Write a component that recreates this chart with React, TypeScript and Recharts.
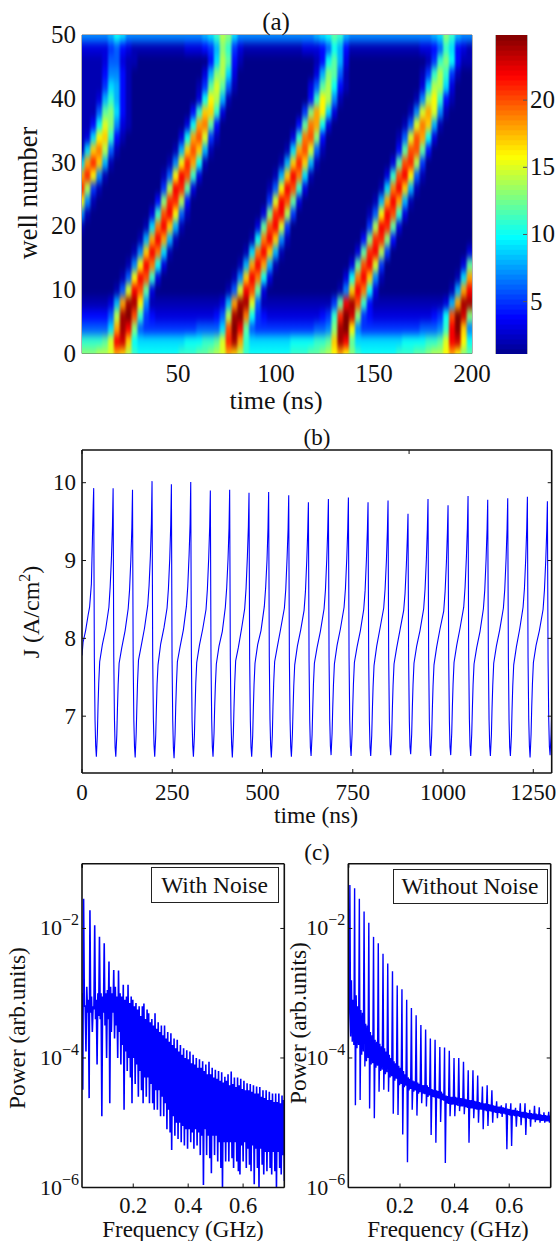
import type { CSSProperties, ReactNode } from "react";
import { Line, LineChart, Scatter, ScatterChart, XAxis, YAxis } from "recharts";

// (a) current density per well, one row per well number
const heatTimes = [
  1, 4, 7, 10, 13, 16, 19, 22, 25, 28,
  31, 34, 37, 40, 43, 46, 49, 52, 55, 58,
  61, 64, 67, 70, 73, 76, 79, 82, 85, 88,
  91, 94, 97, 100, 103, 106, 109, 112, 115, 118,
  121, 124, 127, 130, 133, 136, 139, 142, 145, 148,
  151, 154, 157, 160, 163, 166, 169, 172, 175, 178,
  181, 184, 187, 190, 193, 196, 199,
];
const heatWells = [0, 2, 4, 6, 8, 10, 12, 14, 16, 18, 20, 22, 24, 26, 28, 30, 32, 34, 36, 38, 40, 42, 44, 46, 48, 50];
const heatRows = [
  [13,13,13,14,14,15,18,17,14,11, 10,10,10,10,10,10,10,11,11,11, 12,12,13,14,15,18,17,14,11,10, 10,10,10,10,10,10,11,11,11,12, 12,13,14,16,18,16,13,11,10,10, 10,10,10,10,11,11,11,12,12,13, 14,14,16,18,16,13,12],
  [11,11,11,11,12,15,22,23,17,10, 9,9,9,9,9,9,9,9,10,10, 10,11,11,12,15,21,24,18,11,9, 9,9,9,9,9,9,10,10,10,10, 11,11,12,17,24,22,12,9,9,9, 9,9,9,9,9,10,10,10,10,11, 11,12,15,22,23,16,10],
  [6,6,6,6,6,9,18,24,22,13, 6,5,5,5,5,5,5,5,5,5, 6,6,6,6,9,20,25,22,12,6, 5,5,5,5,5,5,5,5,5,5, 6,6,7,13,24,25,16,7,5,5, 5,5,5,5,5,5,5,5,6,6, 6,7,11,22,25,17,7],
  [4,4,4,4,4,6,14,24,25,20, 11,5,4,3,3,3,3,3,3,3, 3,3,3,4,6,14,24,25,19,10, 5,4,3,3,3,3,3,3,3,3, 3,4,5,11,21,25,23,13,5,4, 3,3,3,3,3,3,3,3,3,3, 4,5,10,20,25,23,13],
  [2,2,2,2,2,3,8,18,24,24, 16,7,2,2,2,2,2,2,2,2, 2,2,2,2,3,8,18,24,24,15, 6,2,2,2,2,2,2,2,2,2, 2,2,2,5,12,22,24,20,11,4, 2,2,2,2,2,2,2,2,2,2, 2,2,3,8,18,24,24],
  [1,1,1,1,1,1,2,6,15,22, 20,12,3,1,1,1,1,1,1,1, 1,1,1,1,1,2,6,15,22,20, 12,3,1,1,1,1,1,1,1,1, 1,1,1,1,2,7,17,22,19,10, 3,1,1,1,1,1,1,1,1,1, 1,1,1,2,8,18,22],
  [1,1,1,1,1,1,1,2,6,16, 22,20,11,3,1,1,1,1,1,1, 1,1,1,1,1,1,2,7,17,22, 19,10,3,1,1,1,1,1,1,1, 1,1,1,1,1,3,10,19,22,17, 7,2,1,1,1,1,1,1,1,1, 1,1,1,1,2,9,18],
  [1,1,1,1,1,1,1,1,2,7, 16,22,19,10,3,1,1,1,1,1, 1,1,1,1,1,1,1,2,8,18, 22,18,8,2,1,1,1,1,1,1, 1,1,1,1,1,1,3,12,20,22, 15,5,1,1,1,1,1,1,1,1, 1,1,1,1,1,3,12],
  [1,1,1,1,1,1,1,1,1,2, 7,17,22,19,9,2,1,1,1,1, 1,1,1,1,1,1,1,1,2,9, 19,22,17,8,2,1,1,1,1,1, 1,1,1,1,1,1,1,3,12,21, 22,14,5,1,1,1,1,1,1,1, 1,1,1,1,1,1,3],
  [1,1,1,1,1,1,1,1,1,1, 2,8,18,22,18,8,2,1,1,1, 1,1,1,1,1,1,1,1,1,2, 10,19,22,17,7,2,1,1,1,1, 1,1,1,1,1,1,1,1,4,13, 21,21,13,4,1,1,1,1,1,1, 1,1,1,1,1,1,1],
  [2,1,1,1,1,1,1,1,1,1, 1,2,9,19,22,17,8,2,1,1, 1,1,1,1,1,1,1,1,1,1, 3,12,20,22,15,5,1,1,1,1, 1,1,1,1,1,1,1,1,1,5, 14,22,21,12,3,1,1,1,1,1, 1,1,1,1,1,1,1],
  [7,2,1,1,1,1,1,1,1,1, 1,1,3,11,20,22,16,6,2,1, 1,1,1,1,1,1,1,1,1,1, 1,3,13,21,22,14,5,1,1,1, 1,1,1,1,1,1,1,1,1,2, 6,16,22,20,11,3,1,1,1,1, 1,1,1,1,1,1,1],
  [16,7,2,1,1,1,1,1,1,1, 1,1,1,4,13,21,21,14,4,1, 1,1,1,1,1,1,1,1,1,1, 1,1,5,15,22,20,12,3,1,1, 1,1,1,1,1,1,1,1,1,1, 2,8,18,22,18,8,2,1,1,1, 1,1,1,1,1,1,1],
  [21,14,5,2,1,1,1,1,1,1, 1,1,1,1,5,14,22,21,12,3, 1,1,1,1,1,1,1,1,1,1, 1,1,2,6,16,22,20,11,3,1, 1,1,1,1,1,1,1,1,1,1, 1,2,9,19,22,17,8,2,1,1, 1,1,1,1,1,1,1],
  [18,21,16,7,2,1,1,1,1,1, 1,1,1,1,2,6,16,22,20,11, 3,1,1,1,1,1,1,1,1,1, 1,1,1,2,8,17,22,19,9,2, 1,1,1,1,1,1,1,1,1,1, 1,1,3,11,20,22,16,6,2,1, 1,1,1,1,1,1,1],
  [9,18,21,17,8,2,1,1,1,1, 1,1,1,1,1,2,7,16,21,18, 10,2,1,1,1,1,1,1,1,1, 1,1,1,1,2,8,17,21,17,8, 2,1,1,1,1,1,1,1,1,1, 1,1,1,3,12,20,21,14,5,1, 1,1,1,1,1,1,1],
  [2,9,17,19,14,6,2,1,1,1, 1,1,1,1,1,1,2,8,17,20, 17,8,2,1,1,1,1,1,1,1, 1,1,1,1,1,2,9,18,20,15, 6,2,1,1,1,1,1,1,1,1, 1,1,1,1,4,12,20,20,12,4, 1,1,1,1,1,1,1],
  [2,3,9,16,17,11,4,2,1,1, 1,1,1,1,1,1,1,3,10,18, 20,15,5,2,1,1,1,1,1,1, 1,1,1,1,1,1,3,11,19,20, 13,4,1,1,1,1,1,1,1,1, 1,1,1,1,2,6,15,20,18,10, 3,1,1,1,1,1,1],
  [2,2,4,10,15,13,7,3,2,1, 1,1,1,1,1,1,1,1,3,10, 18,19,12,4,1,1,1,1,1,1, 1,1,1,1,1,1,1,4,12,19, 18,10,3,1,1,1,1,1,1,1, 1,1,1,1,1,2,6,15,19,17, 8,2,1,1,1,1,1],
  [2,2,2,6,12,13,9,4,2,1, 1,1,1,1,1,1,1,1,1,4, 11,17,17,11,3,1,1,1,1,1, 1,1,1,1,1,1,1,1,5,13, 18,16,9,3,1,1,1,1,1,1, 1,1,1,1,1,1,2,7,15,18, 15,7,2,1,1,1,1],
  [2,2,2,3,8,11,8,4,2,1, 1,1,1,1,1,1,1,1,1,1, 3,10,16,14,8,2,1,1,1,1, 1,1,1,1,1,1,1,1,1,4, 11,16,14,7,2,1,1,1,1,1, 1,1,1,1,1,1,1,2,7,14, 16,11,4,2,1,1,1],
  [2,2,2,2,5,9,8,4,2,1, 1,1,1,1,1,1,1,1,1,1, 2,5,12,15,12,6,2,1,1,1, 1,1,1,1,1,1,1,1,1,3, 6,12,14,10,4,2,1,1,1,1, 1,1,1,1,1,1,1,1,3,9, 14,14,9,3,1,1,1],
  [2,2,2,2,4,7,7,4,2,1, 1,1,1,1,1,1,1,1,1,1, 1,3,8,13,14,9,3,1,1,1, 1,1,1,1,1,1,1,1,1,1, 3,8,13,12,6,2,1,1,1,1, 1,1,1,1,1,1,1,1,2,5, 11,14,11,5,2,1,1],
  [2,2,2,2,3,6,6,3,2,2, 1,1,1,1,1,1,1,1,1,1, 1,1,4,9,14,12,4,2,1,1, 1,1,1,1,1,1,1,1,1,1, 2,4,10,12,8,3,1,1,1,1, 1,1,1,1,1,1,1,1,1,2, 5,11,13,10,4,2,2],
  [3,3,3,3,3,5,6,4,3,2, 2,2,2,2,2,2,2,2,3,3, 3,4,5,8,13,11,5,3,2,2, 2,2,2,2,2,2,2,2,3,3, 3,4,6,10,8,4,2,2,2,2, 2,2,2,2,2,2,2,2,3,3, 4,6,11,9,4,3,2],
  [7,7,7,7,7,8,10,9,7,7, 7,7,7,7,7,7,7,7,7,7, 7,8,9,11,14,13,9,7,7,7, 7,7,7,7,7,7,7,7,7,7, 8,9,10,12,11,8,7,7,7,7, 7,7,7,7,7,7,7,7,7,7, 8,9,13,11,8,7,7],
];
const colorbarLevels = [
  1.29, 1.66, 2.03, 2.4, 2.77, 3.14, 3.51, 3.88, 4.25, 4.62, 4.99, 5.37, 5.74, 6.11, 6.48, 6.85,
  7.22, 7.59, 7.96, 8.33, 8.7, 9.07, 9.44, 9.81, 10.19, 10.56, 10.93, 11.3, 11.67, 12.04, 12.41, 12.78,
  13.15, 13.52, 13.89, 14.26, 14.63, 15.01, 15.38, 15.75, 16.12, 16.49, 16.86, 17.23, 17.6, 17.97, 18.34, 18.71,
  19.08, 19.45, 19.83, 20.2, 20.57, 20.94, 21.31, 21.68, 22.05, 22.42, 22.79, 23.16, 23.53, 23.9, 24.28, 24.65,
];

// (b) current trace, one line per oscillation
const traceTime = [
  0, 3, 10, 17, 21, 26, 29, 31,
  32.4, 34.2, 36.1, 37.9, 39.8, 42.6, 44.4, 46.3, 49, 56.4, 65.6, 74.5, 78, 81.7, 84.4,
  86.2, 88, 89.9, 91.7, 93.6, 96.4, 98.2, 100.1, 102.8, 110.2, 119.4, 127.9, 131.7, 135.4, 138.1,
  139.9, 141.7, 143.6, 145.4, 147.3, 150.1, 151.9, 153.8, 156.5, 163.9, 173.1, 182, 185.8, 189.5, 192.2,
  194, 195.8, 197.7, 199.5, 201.4, 204.2, 206, 207.9, 210.6, 218, 227.2, 235.6, 239.4, 243.1, 245.8,
  247.6, 249.4, 251.3, 253.1, 255, 257.8, 259.6, 261.5, 264.2, 271.6, 280.8, 289.2, 293, 296.7, 299.4,
  301.2, 303, 304.9, 306.7, 308.6, 311.4, 313.2, 315.1, 317.8, 325.2, 334.4, 343.5, 347.3, 351, 353.7,
  355.5, 357.3, 359.2, 361, 362.9, 365.7, 367.5, 369.4, 372.1, 379.5, 388.7, 397, 400.8, 404.5, 407.2,
  409, 410.8, 412.7, 414.5, 416.4, 419.2, 421, 422.9, 425.6, 433, 442.2, 450.6, 454.4, 458.1, 460.8,
  462.6, 464.4, 466.3, 468.1, 470, 472.8, 474.6, 476.5, 479.2, 486.6, 495.8, 505, 508.8, 512.5, 515.2,
  517, 518.8, 520.7, 522.5, 524.4, 527.2, 529, 530.9, 533.6, 541, 550.2, 560.6, 564.4, 568.1, 570.8,
  572.6, 574.4, 576.3, 578.1, 580, 582.8, 584.6, 586.5, 589.2, 596.6, 605.8, 615.1, 618.9, 622.6, 625.3,
  627.1, 628.9, 630.8, 632.6, 634.5, 637.3, 639.1, 641, 643.7, 651.1, 660.3, 670.5, 674.3, 678, 680.7,
  682.5, 684.3, 686.2, 688, 689.9, 692.7, 694.5, 696.4, 699.1, 706.5, 715.7, 725.9, 729.7, 733.4, 736.1,
  737.9, 739.7, 741.6, 743.4, 745.3, 748.1, 749.9, 751.8, 754.5, 761.9, 771.1, 780.3, 784.1, 787.8, 790.5,
  792.3, 794.1, 796, 797.8, 799.7, 802.5, 804.3, 806.2, 808.9, 816.3, 825.5, 835.7, 839.5, 843.2, 845.9,
  847.7, 849.5, 851.4, 853.2, 855.1, 857.9, 859.7, 861.6, 864.3, 871.7, 880.9, 891, 894.8, 898.5, 901.2,
  903, 904.8, 906.7, 908.5, 910.4, 913.2, 915, 916.9, 919.6, 927, 936.2, 946.4, 950.2, 953.9, 956.6,
  958.4, 960.2, 962.1, 963.9, 965.8, 968.6, 970.4, 972.3, 975, 982.4, 991.6, 1001.9, 1005.7, 1009.4, 1012.1,
  1013.9, 1015.7, 1017.6, 1019.4, 1021.3, 1024.1, 1025.9, 1027.8, 1030.5, 1037.9, 1047.1, 1057.3, 1061.1, 1064.8, 1067.5,
  1069.3, 1071.1, 1073, 1074.8, 1076.7, 1079.5, 1081.3, 1083.2, 1085.9, 1093.3, 1102.5, 1111.8, 1115.6, 1119.3, 1122,
  1123.8, 1125.6, 1127.5, 1129.3, 1131.2, 1134, 1135.8, 1137.7, 1140.4, 1147.8, 1157, 1167.2, 1171, 1174.7, 1177.4,
  1179.2, 1181, 1182.9, 1184.7, 1186.6, 1189.4, 1191.2, 1193.1, 1195.8, 1203.2, 1212.4, 1221.7, 1225.5, 1229.2, 1231.9,
  1233.7, 1235.5, 1237.4, 1239.2, 1241.1, 1243.9, 1245.7, 1247.6, 1250.3, 1257.7, 1266.9, 1277.1, 1280.9, 1284.6, 1287.3,
  1289.1, 1290.9, 1292.8, 1294.6, 1296.5, 1299.3, 1301,
];
const traceCurrent = [
  7.78, 7.95, 8.1, 8.3, 8.4, 8.7, 9.3, 9.7,
  9.93, 7.75, 6.95, 6.62, 6.48, 6.77, 7.13, 7.42, 7.7, 7.92, 8.12, 8.4, 8.66, 9.05, 9.45,
  9.93, 7.76, 6.96, 6.6, 6.48, 6.76, 7.1, 7.4, 7.68, 7.88, 8.1, 8.38, 8.62, 9.02, 9.42,
  9.91, 7.74, 6.94, 6.61, 6.47, 6.78, 7.11, 7.43, 7.72, 7.9, 8.13, 8.42, 8.68, 9.06, 9.48,
  10.02, 7.77, 6.97, 6.63, 6.48, 6.75, 7.09, 7.41, 7.66, 7.93, 8.14, 8.39, 8.64, 9.03, 9.46,
  9.98, 7.75, 6.95, 6.6, 6.46, 6.77, 7.12, 7.4, 7.7, 7.89, 8.11, 8.41, 8.67, 9.08, 9.47,
  10.01, 7.76, 6.94, 6.62, 6.48, 6.76, 7.1, 7.42, 7.69, 7.91, 8.12, 8.37, 8.63, 9.04, 9.44,
  9.9, 7.74, 6.96, 6.61, 6.48, 6.78, 7.12, 7.39, 7.67, 7.9, 8.09, 8.4, 8.65, 9.02, 9.41,
  9.91, 7.75, 6.95, 6.63, 6.47, 6.77, 7.11, 7.41, 7.71, 7.88, 8.13, 8.38, 8.64, 9.05, 9.43,
  9.87, 7.73, 6.94, 6.6, 6.48, 6.75, 7.1, 7.4, 7.68, 7.92, 8.1, 8.41, 8.66, 9.01, 9.42,
  9.88, 7.76, 6.96, 6.62, 6.47, 6.76, 7.13, 7.42, 7.7, 7.89, 8.12, 8.39, 8.63, 9.04, 9.4,
  9.84, 7.74, 6.95, 6.61, 6.48, 6.77, 7.09, 7.38, 7.66, 7.9, 8.11, 8.36, 8.6, 9, 9.38,
  9.75, 7.72, 6.94, 6.6, 6.49, 6.76, 7.1, 7.4, 7.68, 7.88, 8.09, 8.38, 8.62, 9.02, 9.4,
  9.79, 7.74, 6.96, 6.62, 6.5, 6.78, 7.11, 7.39, 7.67, 7.91, 8.12, 8.4, 8.64, 9.03, 9.41,
  9.81, 7.75, 6.95, 6.61, 6.49, 6.77, 7.12, 7.41, 7.69, 7.89, 8.1, 8.37, 8.61, 9.01, 9.39,
  9.75, 7.73, 6.94, 6.6, 6.49, 6.75, 7.08, 7.37, 7.65, 7.9, 8.13, 8.39, 8.63, 9, 9.38,
  9.77, 7.74, 6.95, 6.62, 6.5, 6.76, 7.1, 7.39, 7.67, 7.88, 8.11, 8.36, 8.58, 8.95, 9.3,
  9.6, 7.7, 6.93, 6.6, 6.51, 6.77, 7.11, 7.4, 7.68, 7.9, 8.1, 8.38, 8.63, 9.02, 9.4,
  9.79, 7.74, 6.95, 6.61, 6.49, 6.76, 7.09, 7.38, 7.66, 7.89, 8.12, 8.35, 8.6, 8.98, 9.36,
  9.71, 7.73, 6.94, 6.6, 6.5, 6.78, 7.12, 7.41, 7.69, 7.91, 8.13, 8.4, 8.66, 9.05, 9.42,
  9.83, 7.75, 6.96, 6.62, 6.49, 6.77, 7.1, 7.4, 7.67, 7.88, 8.09, 8.38, 8.62, 9.02, 9.4,
  9.78, 7.74, 6.95, 6.61, 6.49, 6.76, 7.11, 7.39, 7.68, 7.9, 8.11, 8.39, 8.63, 9.03, 9.41,
  9.8, 7.74, 6.94, 6.6, 6.49, 6.75, 7.09, 7.38, 7.66, 7.89, 8.12, 8.4, 8.64, 9.04, 9.42,
  9.82, 7.75, 6.96, 6.62, 6.47, 6.77, 7.12, 7.41, 7.69, 7.91, 8.1, 8.37, 8.62, 9.01, 9.39,
  9.76, 7.73, 6.95, 6.61, 6.5, 6.77, 7.1,
];

// (c) log10 of the power, on an even frequency grid (alternating top and bottom of the band)
const noisyStart = 0.0134;
const cleanStart = 0.0106;
const gridStep = 0.00289;
const noisyPowerExp = [
  -3.0,-4.49, -1.54,-3.2, -3.2,-3.9, -2.9,-3.3, -3.1,-4.62, -1.72,-3.3, -3.05,-3.6, -3.2,-3.25, -1.95,-3.4, -3.1,-4.1,
  -3.0,-3.35, -2.13,-3.4, -3.0,-4.9, -3.05,-3.3, -2.23,-3.5, -3.0,-4.0, -2.95,-3.4, -2.51,-4.7, -2.9,-3.6, -3.0,-3.3,
  -2.64,-3.7, -2.9,-3.5, -3.05,-4.0, -2.65,-3.6, -3.0,-4.1, -3.05,-3.8, -2.87,-4.8, -3.1,-3.9, -3.05,-4.2, -2.87,-4.0,
  -3.15,-4.3, -3.05,-4.7, -3.1,-4.0, -3.2,-4.4, -3.15,-4.1, -3.25,-4.6, -3.2,-4.2, -3.35,-4.5, -3.2,-4.7, -3.16,-4.3,
  -3.4,-4.6, -3.25,-4.3, -3.31,-4.7, -3.45,-4.4, -3.4,-4.7, -3.5,-4.8, -3.31,-4.5, -3.55,-4.8, -3.45,-4.5, -3.6,-4.9,
  -3.5,-4.6, -3.65,-4.9, -3.5,-4.7, -3.7,-5.1, -3.6,-4.8, -3.75,-5.15, -3.62,-5.42, -3.8,-4.9, -3.7,-5.2, -3.85,-5.0,
  -3.72,-5.25, -3.9,-5.0, -3.8,-5.3, -3.95,-5.05, -3.85,-5.35, -4.0,-5.1, -3.88,-5.4, -4.02,-5.1, -3.9,-5.3, -4.08,-5.15,
  -3.95,-5.4, -4.1,-5.1, -4.0,-5.35, -4.15,-5.15, -4.02,-5.5, -4.15,-5.2, -4.05,-5.96, -4.2,-5.1, -4.1,-5.5, -4.25,-5.2,
  -4.06,-5.55, -4.25,-5.78, -4.15,-5.2, -4.3,-5.5, -4.18,-5.2, -4.32,-5.6, -4.2,-5.3, -4.35,-5.7, -4.22,-6.0, -4.38,-5.3,
  -4.29,-5.6, -4.35,-5.3, -4.25,-5.6, -4.42,-5.3, -4.21,-5.55, -4.4,-5.7, -4.3,-5.3, -4.45,-5.6, -4.3,-5.75, -4.42,-5.8,
  -4.32,-5.35, -4.48,-5.6, -4.35,-5.3, -4.5,-5.7, -4.39,-5.4, -4.5,-5.65, -4.4,-5.75, -4.52,-5.35, -4.42,-5.95, -4.55,-5.4,
  -4.44,-5.7, -4.55,-6.0, -4.45,-5.4, -4.6,-5.65, -4.5,-5.8, -4.62,-5.45, -4.5,-5.75, -4.65,-5.45, -4.52,-5.7, -4.65,-5.8,
  -4.55,-5.45, -4.68,-5.75, -4.55,-6.0, -4.68,-5.45, -4.55,-5.7, -4.7,-5.8, -4.58,-5.5, -4.65,-5.9,
];
// one line per harmonic: peak, dip, then the band between harmonics
const cleanPowerExp = [
  -3.75, -3.3,
  -1.33,-3.67, -2.8,-3.75, -3.1,-3.8,
  -1.38,-4.73, -3.03,-3.85, -3.2,-3.8,
  -1.54,-4.65, -3.26,-3.95, -3.3,-3.9,
  -1.74,-4.13, -3.47,-4.05, -3.5,-4.0,
  -1.91,-4.78, -3.6,-4.1, -3.65,-4.08,
  -2.13,-4.93, -3.72,-4.15, -3.75,-4.12,
  -2.23,-4.52, -3.78,-4.2, -3.82,-4.18,
  -2.39,-4.49, -3.85,-4.25, -3.9,-4.22,
  -2.54,-4.52, -3.95,-4.3, -4.0,-4.28,
  -2.66,-4.86, -4.05,-4.35, -4.08,-4.32,
  -2.88,-4.88, -4.12,-4.42, -4.15,-4.4,
  -2.94,-5.18, -4.2,-4.45, -4.25,-4.43,
  -3.1,-5.61, -4.3,-4.5, -4.32,-4.48,
  -3.23,-4.8, -4.35,-4.52, -4.36,-4.5,
  -3.34,-4.89, -4.38,-4.55, -4.4,-4.53,
  -3.49,-4.7, -4.42,-4.55, -4.42,-4.56,
  -3.56,-4.75, -4.42,-4.6, -4.45,-4.58,
  -3.7,-5.19, -4.48,-4.6, -4.49,-4.61,
  -3.72,-5.31, -4.5,-4.62, -4.51,-4.63,
  -3.83,-4.99, -4.52,-4.65, -4.55,-4.66,
  -3.84,-5.62, -4.58,-4.7, -4.59,-4.71,
  -3.89,-4.9, -4.6,-4.72, -4.6,-4.72,
  -4.0,-4.9, -4.6,-4.73, -4.61,-4.74,
  -4.0,-4.82, -4.62,-4.75, -4.62,-4.75,
  -4.06,-4.87, -4.63,-4.76, -4.64,-4.77,
  -4.19,-5.31, -4.65,-4.78, -4.65,-4.78,
  -4.19,-4.93, -4.66,-4.79, -4.67,-4.8,
  -4.27,-5.0, -4.68,-4.8, -4.69,-4.8,
  -4.44,-5.1, -4.7,-4.81, -4.7,-4.82,
  -4.42,-5.05, -4.71,-4.82, -4.72,-4.83,
  -4.5,-5.0, -4.73,-4.84, -4.74,-4.85,
  -4.67,-4.93, -4.75,-4.85, -4.75,-4.86,
  -4.73,-4.91, -4.76,-4.86, -4.77,-4.87,
  -4.7,-5.41, -4.78,-4.88, -4.79,-4.89,
  -4.7,-5.36, -4.8,-4.89, -4.8,-4.9,
  -4.77,-5.06, -4.81,-4.9, -4.82,-4.91,
  -4.7,-5.04, -4.83,-4.92, -4.83,-4.93,
  -4.7,-5.19, -4.84,-4.93, -4.85,-4.94,
  -4.8,-5.06, -4.85,-4.95, -4.86,-4.95,
  -4.74,-4.99, -4.86,-4.96, -4.87,-4.96,
  -4.76,-5.0, -4.87,-4.97, -4.88,-4.97,
  -4.84,-5.0, -4.88,-4.98, -4.89,-4.98,
  -4.83,-5.0, -4.89,-5.0,
];

const wellTicks = [0, 10, 20, 30, 40, 50];
const heatTimeTicks = [50, 100, 150, 200];
const colorbarTicks = [5, 10, 15, 20];
const traceTimeTicks = [0, 250, 500, 750, 1000, 1250];
const traceCurrentTicks = [7, 8, 9, 10];
const freqTicks = [0.2, 0.4, 0.6];
const powerTicks = [1e-6, 1e-4, 1e-2];

const FONT = '"Liberation Serif", "Times New Roman", serif';
const INK = "#111";
const BLUE = "#0000ff";

const heatCells = heatRows.flatMap((row, r) =>
  row.map((value, c) => ({ t: heatTimes[c], well: heatWells[r], value })),
);
const colorbarCells = colorbarLevels.map((value) => ({ x: 0.5, value }));
const tracePoints = traceTime.map((t, i) => ({ t, j: traceCurrent[i] }));
const noisyPoints = noisyPowerExp.map((e, i) => ({ f: noisyStart + i * gridStep, p: 10 ** e }));
const cleanPoints = cleanPowerExp.map((e, i) => ({ f: cleanStart + i * gridStep, p: 10 ** e }));

function jet(value: number) {
  const f = Math.min(1, Math.max(0, (value - 0.8) / 24.05));
  const ch = (c: number) => Math.round(255 * Math.min(1, Math.max(0, 1.5 - Math.abs(4 * f - c))));
  return `rgb(${ch(3)},${ch(2)},${ch(1)})`;
}

const HeatCell = (p: any) => (
  <rect x={p.cx - 3.4} y={p.cy - 7} width={6.8} height={14} fill={jet(p.payload.value)} />
);
const ColorbarCell = (p: any) => (
  <rect x={p.cx - 15.5} y={p.cy - 2.9} width={31} height={5.8} fill={jet(p.payload.value)} />
);

const bottomTick = (fontSize: number, baseline: number, stroke: string, len: number) => (p: any) => (
  <g>
    <line x1={p.x} x2={p.x} y1={p.y} y2={p.y - len} stroke={stroke} />
    <text x={p.x} y={p.y + baseline} textAnchor="middle" fontFamily={FONT} fontSize={fontSize} fill={INK}>
      {p.payload.value}
    </text>
  </g>
);
const leftTick = (fontSize: number, gap: number, stroke: string, len: number) => (p: any) => (
  <g>
    <line x1={p.x} x2={p.x + len} y1={p.y} y2={p.y} stroke={stroke} />
    <text x={p.x - gap} y={p.y + fontSize * 0.33} textAnchor="end" fontFamily={FONT} fontSize={fontSize} fill={INK}>
      {p.payload.value}
    </text>
  </g>
);
const topMark = (stroke: string) => (p: any) => (
  <line x1={p.x} x2={p.x} y1={p.y} y2={p.y + 4} stroke={stroke} />
);
const rightMark = (stroke: string) => (p: any) => (
  <line x1={p.x} x2={p.x - 4} y1={p.y} y2={p.y} stroke={stroke} />
);
const barTick = (p: any) => (
  <g>
    <line x1={p.x} x2={p.x - 4} y1={p.y} y2={p.y} stroke="#555" />
    <text x={p.x + 3} y={p.y + 8} fontFamily={FONT} fontSize={25} fill={INK}>
      {p.payload.value}
    </text>
  </g>
);
const powerTick = (p: any) => (
  <g>
    <line x1={p.x} x2={p.x + 4} y1={p.y} y2={p.y} stroke={INK} />
    <text x={p.x - 3} y={p.y + 7} textAnchor="end" fontFamily={FONT} fill={INK}>
      <tspan fontSize={22}>10</tspan>
      <tspan fontSize={16} dy={-10}>
        {`\u2212${Math.round(-Math.log10(p.payload.value))}`}
      </tspan>
    </text>
  </g>
);

function Caption({ x, y, size, rotate, children }: { x: number; y: number; size: number; rotate?: boolean; children: ReactNode }) {
  const style: CSSProperties = {
    position: "absolute",
    left: x,
    top: y,
    fontFamily: FONT,
    fontSize: size,
    lineHeight: 1,
    color: INK,
    whiteSpace: "nowrap",
    transform: `translate(-50%, -50%)${rotate ? " rotate(-90deg)" : ""}`,
  };
  return <div style={style}>{children}</div>;
}

function NoteBox({ x, y, width, height, children }: { x: number; y: number; width: number; height: number; children: ReactNode }) {
  return (
    <div
      style={{
        position: "absolute",
        left: x,
        top: y,
        width,
        height,
        boxSizing: "border-box",
        background: "#fff",
        border: "1px solid #222",
        fontFamily: FONT,
        fontSize: 23.5,
        color: INK,
        display: "flex",
        alignItems: "center",
        justifyContent: "center",
      }}
    >
      {children}
    </div>
  );
}

function Spectrum({ left, width, plotLeft, plotRight, domain, points, lineWidth }: { left: number; width: number; plotLeft: number; plotRight: number; domain: number[]; points: { f: number; p: number }[]; lineWidth: number }) {
  const axisLine = { stroke: INK, strokeWidth: 1.6 };
  return (
    <div style={{ position: "absolute", left, top: 850 }}>
      <LineChart width={width} height={391} data={points} margin={{ top: 12.7, bottom: 52.5, left: plotLeft - 1, right: plotRight - 1 }}>
        <XAxis type="number" dataKey="f" domain={domain} ticks={freqTicks} height={1} interval={0} allowDataOverflow axisLine={axisLine} tickLine={false} tickSize={0} tickMargin={0} tick={bottomTick(22.5, 25, INK, 4)} />
        <XAxis xAxisId="top" orientation="top" type="number" domain={domain} ticks={freqTicks} height={1} interval={0} allowDataOverflow axisLine={axisLine} tickLine={false} tickSize={0} tickMargin={0} tick={topMark(INK)} />
        <YAxis scale="log" domain={[1e-6, 1e-1]} ticks={powerTicks} width={1} interval={0} allowDataOverflow axisLine={axisLine} tickLine={false} tickSize={0} tickMargin={0} tick={powerTick} />
        <YAxis yAxisId="right" orientation="right" scale="log" domain={[1e-6, 1e-1]} ticks={powerTicks} width={1} interval={0} allowDataOverflow axisLine={axisLine} tickLine={false} tickSize={0} tickMargin={0} tick={rightMark(INK)} />
        <Line dataKey="p" stroke={BLUE} strokeWidth={lineWidth} dot={false} type="linear" isAnimationActive={false} />
      </LineChart>
    </div>
  );
}

export default function App() {
  const heatAxis = { stroke: "#666", strokeWidth: 1 };
  const traceAxis = { stroke: INK, strokeWidth: 1.6 };
  return (
    <div style={{ position: "absolute", left: 0, top: 0, width: 558, height: 1241, background: "#fff", overflow: "hidden" }}>
      <style>{`.heatmap .recharts-scatter { filter: url(#heatSmooth); }`}</style>
      <svg width={0} height={0} style={{ position: "absolute" }}>
        <filter id="heatSmooth" x="-5%" y="-5%" width="110%" height="110%" colorInterpolationFilters="sRGB">
          <feGaussianBlur stdDeviation="1.3 4" />
        </filter>
      </svg>

      <div className="heatmap" style={{ position: "absolute", left: 0, top: 0 }}>
        <ScatterChart width={558} height={420} margin={{ top: 34, bottom: 65.5, left: 81, right: 85 }}>
          <XAxis type="number" dataKey="t" domain={[1, 200]} ticks={heatTimeTicks} height={1} interval={0} allowDataOverflow axisLine={heatAxis} tickLine={false} tickSize={0} tickMargin={0} tick={bottomTick(25, 28, "#777", 0)} />
          <XAxis xAxisId="top" orientation="top" type="number" domain={[1, 200]} height={1} tick={false} allowDataOverflow axisLine={heatAxis} tickLine={false} />
          <YAxis type="number" dataKey="well" domain={[0, 50]} ticks={wellTicks} width={1} interval={0} allowDataOverflow axisLine={heatAxis} tickLine={false} tickSize={0} tickMargin={0} tick={leftTick(25, 6, "#777", 0)} />
          <YAxis yAxisId="right" orientation="right" type="number" domain={[0, 50]} width={1} tick={false} allowDataOverflow axisLine={heatAxis} tickLine={false} />
          <Scatter data={heatCells} shape={HeatCell} isAnimationActive={false} />
        </ScatterChart>
      </div>

      <div style={{ position: "absolute", left: 490, top: 0 }}>
        <ScatterChart width={68} height={420} margin={{ top: 35, bottom: 66, left: 5, right: 30 }}>
          <XAxis type="number" dataKey="x" domain={[0, 1]} height={0} tick={false} allowDataOverflow axisLine={false} tickLine={false} />
          <YAxis type="number" dataKey="value" domain={[1.1, 24.85]} width={1} tick={false} allowDataOverflow axisLine={heatAxis} tickLine={false} />
          <YAxis yAxisId="bar" orientation="right" type="number" domain={[1.1, 24.85]} ticks={colorbarTicks} width={1} interval={0} allowDataOverflow axisLine={heatAxis} tickLine={false} tickSize={0} tickMargin={0} tick={barTick} />
          <Scatter data={colorbarCells} shape={ColorbarCell} isAnimationActive={false} />
        </ScatterChart>
      </div>

      <div style={{ position: "absolute", left: 0, top: 430 }}>
        <LineChart width={558} height={400} data={tracePoints} margin={{ top: 19, bottom: 56, left: 81, right: 5.3 }}>
          <XAxis type="number" dataKey="t" domain={[0, 1301]} ticks={traceTimeTicks} height={1} interval={0} allowDataOverflow axisLine={traceAxis} tickLine={false} tickSize={0} tickMargin={0} tick={bottomTick(23, 27, INK, 4)} />
          <XAxis xAxisId="top" orientation="top" type="number" domain={[0, 1301]} ticks={traceTimeTicks} height={1} interval={0} allowDataOverflow axisLine={traceAxis} tickLine={false} tickSize={0} tickMargin={0} tick={topMark(INK)} />
          <YAxis type="number" domain={[6.27, 10.42]} ticks={traceCurrentTicks} width={1} interval={0} allowDataOverflow axisLine={traceAxis} tickLine={false} tickSize={0} tickMargin={0} tick={leftTick(23, 6, INK, 4)} />
          <YAxis yAxisId="right" orientation="right" type="number" domain={[6.27, 10.42]} ticks={traceCurrentTicks} width={1} interval={0} allowDataOverflow axisLine={traceAxis} tickLine={false} tickSize={0} tickMargin={0} tick={rightMark(INK)} />
          <Line dataKey="j" stroke={BLUE} strokeWidth={1.1} dot={false} type="linear" isAnimationActive={false} />
        </LineChart>
      </div>

      <Spectrum left={0} width={290} plotLeft={82} plotRight={5.7} domain={[0.0134, 0.75]} points={noisyPoints} lineWidth={1.6} />
      <Spectrum left={290} width={268} plotLeft={58.3} plotRight={7.3} domain={[0.0106, 0.752]} points={cleanPoints} lineWidth={1.4} />

      <NoteBox x={150.5} y={867} width={128} height={36}>With Noise</NoteBox>
      <NoteBox x={392.5} y={869} width={155} height={34.5}>Without Noise</NoteBox>

      <Caption x={276} y={21} size={25}>(a)</Caption>
      <Caption x={276} y={401} size={26}>time (ns)</Caption>
      <Caption x={28} y={193} size={26.4} rotate>well number</Caption>

      <Caption x={317} y={437} size={23}>(b)</Caption>
      <Caption x={316} y={816} size={23.5}>time (ns)</Caption>
      <Caption x={31} y={612} size={24} rotate>
        J (A/cm<sup style={{ fontSize: 16, lineHeight: 0 }}>2</sup>)
      </Caption>

      <Caption x={317} y={852} size={23}>(c)</Caption>
      <Caption x={183} y={1229} size={23}>Frequency (GHz)</Caption>
      <Caption x={448} y={1229} size={23}>Frequency (GHz)</Caption>
      <Caption x={18} y={1028} size={23.3} rotate>Power (arb.units)</Caption>
      <Caption x={299} y={1023} size={23.3} rotate>Power (arb.units)</Caption>
    </div>
  );
}
